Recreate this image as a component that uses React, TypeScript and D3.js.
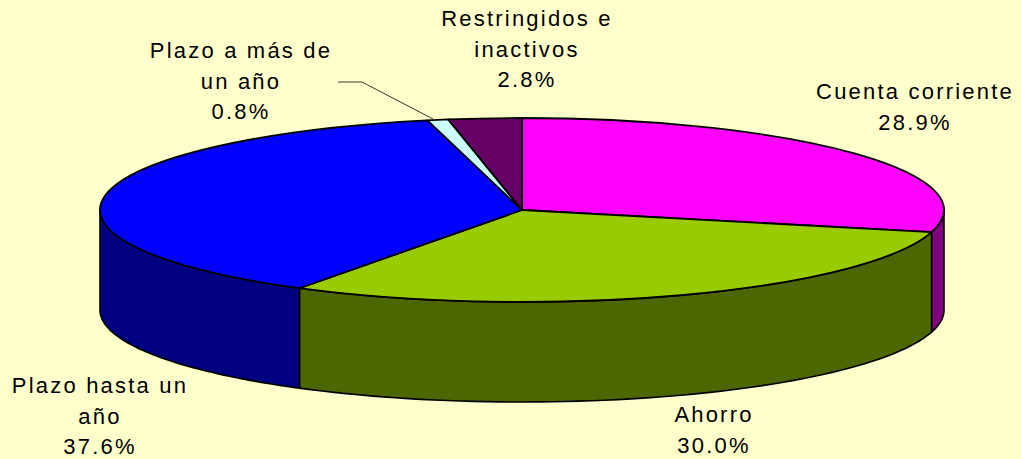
import { useEffect } from 'react';
import * as d3 from 'd3';

const categories = [
  'Cuenta corriente',
  'Ahorro',
  'Plazo hasta un año',
  'Plazo a más de un año',
  'Restringidos e inactivos',
];
const values = [28.9, 30.0, 37.6, 0.8, 2.8];
const topColors = ['#FF00FF', '#99CC00', '#0000FF', '#CCFFFF', '#660066'];
const sideColors = ['#800080', '#4C6600', '#000080', '#668080', '#330033'];

// how each label is broken over lines, as in the original
const labelLines = [
  ['Cuenta corriente'],
  ['Ahorro'],
  ['Plazo hasta un', 'año'],
  ['Plazo a más de', 'un año'],
  ['Restringidos e', 'inactivos'],
];

// label anchors (centre x, first baseline)
const labelPos: [number, number][] = [
  [915, 99],
  [714, 422],
  [100, 393],
  [241, 58],
  [527, 26],
];

const W = 1021;
const H = 459;
const cx = 522;
const cy = 210;
const rx = 422;
const ry = 92;
const depth = 100;
const lineH = 30.5;

export default function App() {
  useEffect(() => {
    document.body.style.margin = '0';
  }, []);

  const pie = d3.pie<number>().sort(null).value(d => d);
  const slices = pie(values);

  const arc = d3.arc<d3.PieArcDatum<number>>().innerRadius(0).outerRadius(rx);

  const pt = (a: number, dy = 0): [number, number] => [
    cx + rx * Math.sin(a),
    cy - ry * Math.cos(a) + dy,
  ];
  const line = d3.line();

  // front wall: only the part of each slice between 3 and 9 o'clock is visible
  const sidePath = (s: d3.PieArcDatum<number>) => {
    const a0 = Math.max(s.startAngle, Math.PI / 2);
    const a1 = Math.min(s.endAngle, (3 * Math.PI) / 2);
    if (a1 <= a0) return null;
    const steps = 60;
    const top = d3.range(steps + 1).map(i => pt(a0 + ((a1 - a0) * i) / steps));
    const bottom = top.map(([x, y]) => [x, y + depth] as [number, number]).reverse();
    return line([...top, ...bottom]) + 'Z';
  };

  const font = '"Liberation Sans", Arial, sans-serif';

  return (
    <svg width={W} height={H} style={{ display: 'block', background: '#FFFFCC' }}>
      <rect width={W} height={H} fill="#FFFFCC" />
      <g>
        {slices.map((s, i) => {
          const d = sidePath(s);
          return d ? (
            <path key={'side' + i} d={d} fill={sideColors[i]} stroke="#000" strokeWidth={1.6} strokeLinejoin="round" />
          ) : null;
        })}
      </g>
      <g transform={`translate(${cx},${cy}) scale(1,${ry / rx})`}>
        {slices.map((s, i) => (
          <path
            key={'top' + i}
            d={arc(s) ?? ''}
            fill={topColors[i]}
            stroke="#000"
            strokeWidth={1.8}
            strokeLinejoin="round"
            vectorEffect="non-scaling-stroke"
          />
        ))}
      </g>
      {/* leader line for the thin slice */}
      <polyline points="338,82 362,82 433,119" fill="none" stroke="#000" strokeWidth={0.8} />
      <g fontFamily={font} fontSize={22} fill="#000" textAnchor="middle" style={{ letterSpacing: '2.2px' }}>
        {categories.map((c, i) => {
          const [x, y] = labelPos[i];
          const lines = [...labelLines[i], `${values[i].toFixed(1)}%`];
          return (
            <text key={c} x={x} y={y}>
              {lines.map((t, j) => (
                <tspan key={j} x={x} y={y + j * lineH}>
                  {t}
                </tspan>
              ))}
            </text>
          );
        })}
      </g>
    </svg>
  );
}
